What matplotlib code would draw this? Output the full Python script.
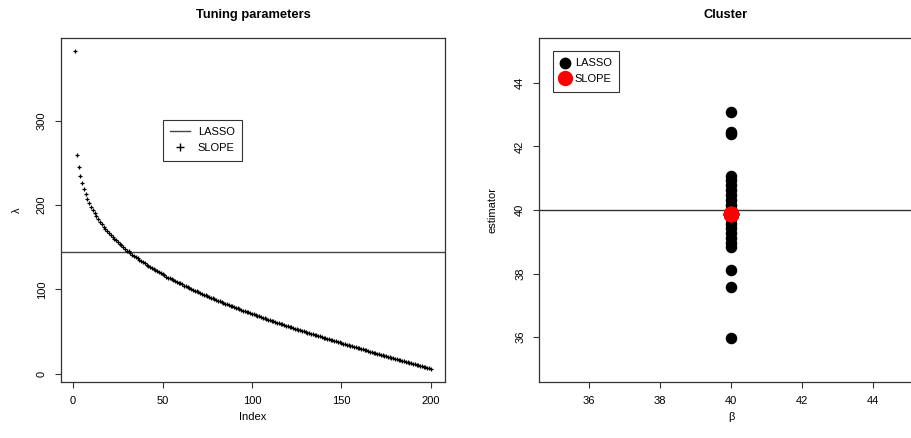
import numpy as np
import matplotlib.pyplot as plt
from matplotlib.lines import Line2D

plt.rcParams['font.family'] = ['Liberation Sans', 'DejaVu Sans']

# left panel: lambda sequences
lasso_lambda = 144.3
slope_lambda = [
    382, 259, 245, 234, 226, 219, 213, 207, 202, 198,
    194, 190, 187, 183, 180, 177, 174, 172, 169, 167,
    164, 162, 160, 158, 156, 154, 152, 150, 148, 146,
    145, 143, 141, 140, 138, 137, 135, 134, 132, 131,
    129, 128, 127, 125, 124, 123, 122, 120, 119, 118,
    117, 115, 114, 113, 112, 111, 110, 109, 108, 107,
    106, 104.5, 103.4, 102.4, 101.4, 100.4, 99.4, 98.5, 97.5, 96.5,
    95.6, 94.7, 93.7, 92.8, 91.9, 91.0, 90.1, 89.2, 88.3, 87.4,
    86.6, 85.7, 84.8, 84.0, 83.1, 82.3, 81.4, 80.6, 79.8, 78.9,
    78.1, 77.3, 76.5, 75.7, 74.9, 74.2, 73.4, 72.6, 71.8, 71.0,
    70.2, 69.5, 68.7, 67.9, 67.2, 66.4, 65.7, 65.0, 64.2, 63.5,
    62.8, 62.1, 61.4, 60.6, 59.9, 59.2, 58.5, 57.8, 57.1, 56.4,
    55.6, 54.9, 54.2, 53.5, 52.9, 52.2, 51.5, 50.8, 50.2, 49.5,
    48.8, 48.2, 47.5, 46.8, 46.2, 45.5, 44.8, 44.1, 43.5, 42.8,
    42.1, 41.5, 40.8, 40.2, 39.5, 38.9, 38.2, 37.6, 37.0, 36.3,
    35.7, 35.0, 34.4, 33.8, 33.2, 32.5, 31.9, 31.2, 30.6, 30.0,
    29.4, 28.7, 28.1, 27.5, 26.9, 26.3, 25.6, 25.0, 24.4, 23.8,
    23.2, 22.6, 22.0, 21.4, 20.8, 20.1, 19.5, 18.9, 18.3, 17.7,
    17.1, 16.5, 15.9, 15.3, 14.7, 14.1, 13.5, 12.9, 12.3, 11.7,
    11.0, 10.4, 9.8, 9.2, 8.6, 8.0, 7.4, 6.8, 6.2, 5.6,
]
index = np.arange(1, len(slope_lambda) + 1)

# right panel: estimates of a cluster with true value 40
beta_true = 40
lasso_est = [43.09, 42.45, 42.38, 41.08, 40.93, 40.78, 40.62, 40.47, 40.32,
             40.17, 40.02, 39.72, 39.57, 39.42, 39.27, 39.12, 38.97, 38.85,
             38.11, 37.57, 35.98]
slope_est = [39.86] * 20

fig = plt.figure(figsize=(9.12, 4.38), dpi=100)
ax1 = fig.add_axes([0.0666, 0.1285, 0.4214, 0.784])
ax2 = fig.add_axes([0.591, 0.1285, 0.421, 0.784])

fs = 8
for ax in (ax1, ax2):
    for s in ax.spines.values():
        s.set_linewidth(0.9)
        s.set_color('#333333')
    ax.tick_params(direction='out', length=4, width=0.8, color='#333333',
                   labelsize=fs, pad=6)

# tuning parameters
ax1.axhline(lasso_lambda, color='#444444', lw=1)
ax1.plot(index, slope_lambda, ls='none', marker='+', ms=3.2, mew=0.9, color='black')
ax1.set_xlim(-6.96, 207.96)
ax1.set_ylim(-9.5, 397.5)
ax1.set_xticks([0, 50, 100, 150, 200])
ax1.set_yticks([0, 100, 200, 300])
ax1.set_yticklabels(['0', '100', '200', '300'], rotation=90, va='center')
ax1.set_title('Tuning parameters', fontsize=9.3, fontweight='bold', pad=14.5)
ax1.set_xlabel('Index', fontsize=fs)
ax1.set_ylabel('λ', fontsize=fs)
ax1.xaxis.set_label_coords(0.5, -0.088)
ax1.yaxis.set_label_coords(-0.1, 0.5)
h1 = [Line2D([], [], color='#444444', lw=1),
      Line2D([], [], ls='none', marker='+', ms=6, mew=1, color='black')]
leg1 = ax1.legend(h1, ['LASSO', 'SLOPE'], loc='upper left',
                  bbox_to_anchor=(0.266, 0.762), fontsize=fs, frameon=True,
                  fancybox=False, borderpad=0.65, handlelength=1.8,
                  handletextpad=0.7, labelspacing=0.55, borderaxespad=0)
leg1.get_frame().set_edgecolor('black')
leg1.get_frame().set_linewidth(0.8)

# cluster
ax2.axhline(beta_true, color='#333333', lw=1)
ax2.plot([beta_true] * len(lasso_est), lasso_est, ls='none', marker='o',
         ms=7.3, color='black')
ax2.plot([beta_true] * len(slope_est), slope_est, ls='none', marker='o',
         ms=10, color='red')
ax2.set_xlim(34.6, 45.4)
ax2.set_ylim(34.6, 45.4)
ax2.set_xticks([36, 38, 40, 42, 44])
ax2.set_yticks([36, 38, 40, 42, 44])
ax2.set_yticklabels(['36', '38', '40', '42', '44'], rotation=90, va='center')
ax2.set_title('Cluster', fontsize=9.3, fontweight='bold', pad=14.5)
ax2.set_xlabel('β', fontsize=fs)
ax2.set_ylabel('estimator', fontsize=fs)
ax2.xaxis.set_label_coords(0.5, -0.088)
ax2.yaxis.set_label_coords(-0.108, 0.5)
ax2.title.set_position((0.485, 1.0))
h2 = [Line2D([], [], ls='none', marker='o', ms=7.5, color='black'),
      Line2D([], [], ls='none', marker='o', ms=10, color='red')]
leg2 = ax2.legend(h2, ['LASSO', 'SLOPE'], loc='upper left',
                  bbox_to_anchor=(0.0365, 0.964), fontsize=fs, frameon=True,
                  fancybox=False, borderpad=0.7, handlelength=0.8,
                  handletextpad=0.45, labelspacing=0.5, borderaxespad=0)
leg2.get_frame().set_edgecolor('black')
leg2.get_frame().set_linewidth(0.8)

fig.savefig('out.png', dpi=100)
